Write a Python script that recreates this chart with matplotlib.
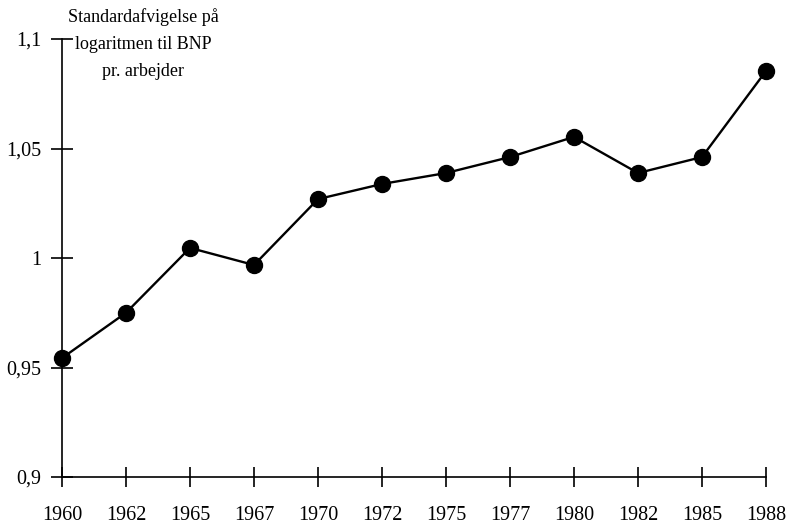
import matplotlib
matplotlib.use("Agg")
import matplotlib.pyplot as plt

years = ["1960", "1962", "1965", "1967", "1970", "1972", "1975", "1977", "1980", "1982", "1985", "1988"]
values = [0.9543, 0.975, 1.0046, 0.9968, 1.0269, 1.0338, 1.0388, 1.0461, 1.0553, 1.0388, 1.0461, 1.0854]
yticks = [0.9, 0.95, 1.0, 1.05, 1.1]
ylabels = ["0,9", "0,95", "1", "1,05", "1,1"]
title_text = "Standardafvigelse på\nlogaritmen til BNP\npr. arbejder"

plt.rcParams['font.family'] = ['Liberation Serif', 'DejaVu Serif']

fig = plt.figure(figsize=(7.91, 5.26), dpi=100)
ax = fig.add_axes([62/791, 49/526, (766-62)/791, (477-39)/526])
x = list(range(len(years)))
ax.plot(x, values, color='black', lw=1.7, marker='o', markersize=11.5,
        markerfacecolor='black', markeredgecolor='black', clip_on=False, zorder=3)
ax.set_xlim(0, len(years) - 1)
ax.set_ylim(0.9, 1.1)
ax.set_xticks(x)
ax.set_xticklabels(years)
ax.set_yticks(yticks)
ax.set_yticklabels(ylabels)
for s in ['top', 'right']:
    ax.spines[s].set_visible(False)
for s in ['left', 'bottom']:
    ax.spines[s].set_linewidth(1.2)
ax.tick_params(axis='both', direction='inout', width=1.2, labelsize=14.5)
ax.tick_params(axis='x', length=14, pad=14)
ax.tick_params(axis='y', length=16, pad=7)
fig.text(143/791, 1 - 44/526, title_text, ha='center', va='center', fontsize=13, linespacing=1.75)
fig.savefig("out.png", dpi=100)
